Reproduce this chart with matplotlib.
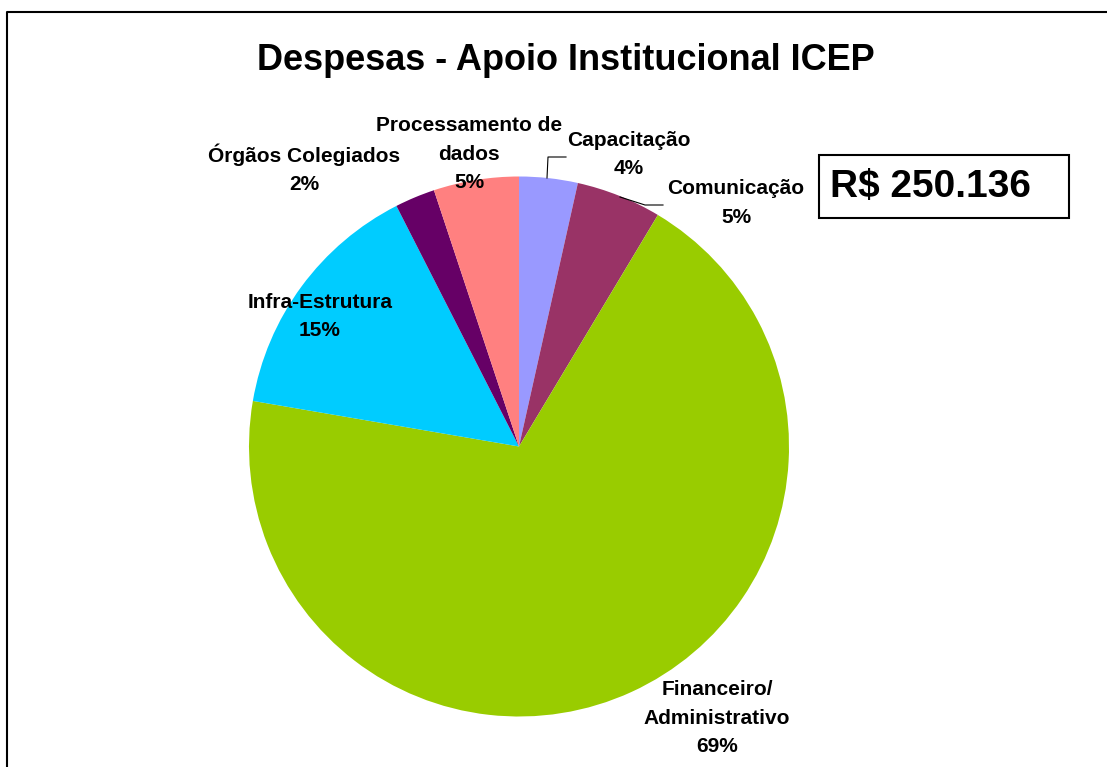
#!/usr/bin/env python3
"""Pie chart: Despesas - Apoio Institucional ICEP."""

import matplotlib
matplotlib.use("Agg")
import matplotlib.pyplot as plt
from matplotlib.patches import Rectangle

W, H = 1107, 767

# slice data, clockwise from 12 o'clock
categories = ["Capacitação", "Comunicação", "Financeiro/\nAdministrativo",
              "Infra-Estrutura", "Órgãos Colegiados", "Processamento de\ndados"]
shares = [3.5, 5.1, 69.1, 14.8, 2.4, 5.1]
colors = ["#9999FF", "#993366", "#99CC00", "#00CCFF", "#660066", "#FF8080"]
title = "Despesas - Apoio Institucional ICEP"
total_label = "R$ 250.136"

# label anchors in pixels (x centre, baseline of the last line)
label_pos = [(629, 174), (736, 223), (717, 752), (320, 336), (304, 190), (469, 188)]
LINE_STEP = 28.5  # px between label baselines

FONT = "Liberation Sans"


def fy(py):
    # pixel row -> data y (origin bottom)
    return H - py


fig = plt.figure(figsize=(W / 100, H / 100), dpi=100)
ax = fig.add_axes([0, 0, 1, 1])

ax.pie(shares, colors=colors, startangle=90, counterclock=False,
       center=(519, fy(446.5)), radius=270,
       wedgeprops=dict(linewidth=0))

# one text per line so the blocks don't overlap each other
for name, val, (px, py) in zip(categories, shares, label_pos):
    lines = name.split("\n") + [f"{round(val):d}%"]
    n = len(lines)
    for i, line in enumerate(lines):
        ax.text(px, fy(py - (n - 1 - i) * LINE_STEP), line, ha="center",
                va="baseline", fontsize=15, fontweight="bold", family=FONT)

# leader lines for the two small slices
ax.plot([566, 548, 547], [fy(157), fy(157), fy(178)], color="black", lw=0.8)
ax.plot([663, 645, 620], [fy(205), fy(205), fy(197)], color="black", lw=0.8)

ax.text(566, fy(70), title, ha="center", va="baseline",
        fontsize=26, fontweight="bold", family=FONT)

# total box
ax.add_patch(Rectangle((819, fy(218)), 250, 63, fill=False,
                       edgecolor="black", linewidth=1.5))
ax.text(830, fy(197), total_label, ha="left", va="baseline",
        fontsize=28, fontweight="bold", family=FONT)

# chart-area border (right/bottom run off the image)
ax.plot([7, 7, W + 5], [fy(H + 5), fy(12), fy(12)], color="black", lw=1.5)

ax.set_xlim(0, W)
ax.set_ylim(0, H)
ax.set_aspect("auto")
ax.axis("off")

fig.savefig("out.png", dpi=100)
